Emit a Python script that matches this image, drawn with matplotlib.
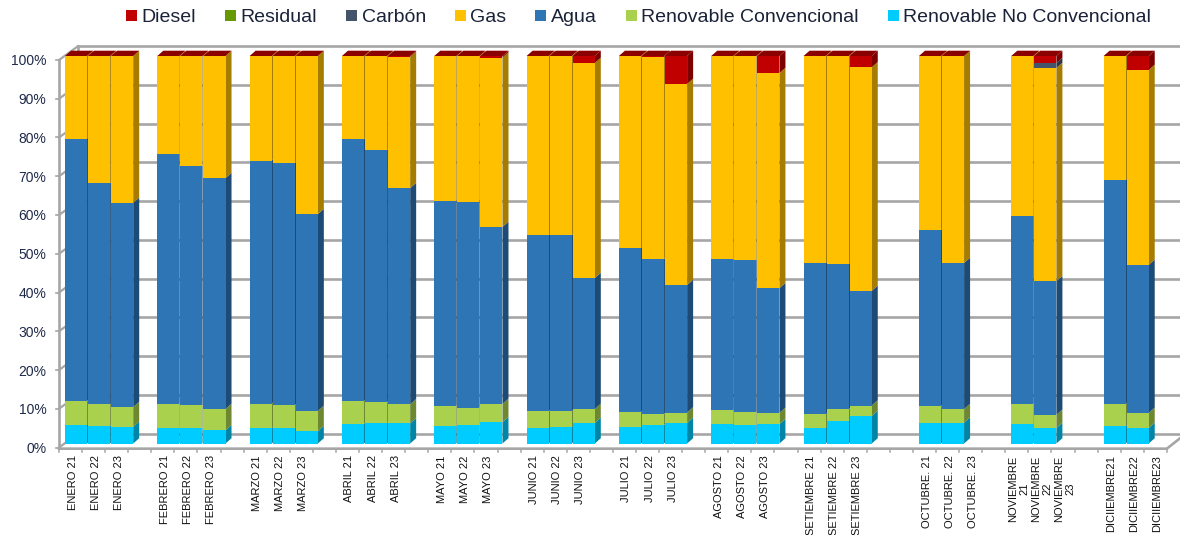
import matplotlib
matplotlib.use("Agg")
import matplotlib.pyplot as plt
import matplotlib.transforms as mtrans
from matplotlib.patches import Patch

plt.rcParams['font.family'] = ['Liberation Sans', 'DejaVu Sans']

# one slot per category, the empty strings are the gaps between the months
categories = ["ENERO 21", "ENERO 22", "ENERO 23", "",
              "FEBRERO 21", "FEBRERO 22", "FEBRERO 23", "",
              "MARZO 21", "MARZO 22", "MARZO 23", "",
              "ABRIL 21", "ABRIL 22", "ABRIL 23", "",
              "MAYO 21", "MAYO 22", "MAYO 23", "",
              "JUNIO 21", "JUNIO 22", "JUNIO 23", "",
              "JULIO 21", "JULIO 22", "JULIO 23", "",
              "AGOSTO 21", "AGOSTO 22", "AGOSTO 23", "",
              "SETIEMBRE 21", "SETIEMBRE 22", "SETIEMBRE 23", "", "",
              "OCTUBRE. 21", "OCTUBRE. 22", "OCTUBRE. 23", "",
              "NOVIEMBRE\n21", "NOVIEMBRE\n22", "NOVIEMBRE\n23", "",
              "DICIIEMBRE21", "DICIIEMBRE22", "DICIIEMBRE23"]

# values in %, one per named category, 2023 has no data from October on
renovable_nc = [4.9, 4.6, 4.3, 4.0, 4.0, 3.4, 4.0, 4.0, 3.2, 5.0, 5.3, 5.2,
                4.5, 4.8, 5.5, 4.0, 4.3, 5.3, 4.3, 4.8, 5.3, 5.0, 4.8, 5.0,
                4.0, 5.8, 7.1, 5.3, 5.4, 0, 5.0, 4.0, 0, 4.5, 4.0, 0]
renovable_conv = [6.1, 5.5, 5.1, 6.2, 5.9, 5.5, 6.3, 5.9, 5.2, 6.0, 5.4, 4.9,
                  5.2, 4.4, 4.7, 4.4, 4.0, 3.6, 3.8, 2.9, 2.7, 3.6, 3.3, 2.9,
                  3.5, 3.1, 2.7, 4.4, 3.5, 0, 5.2, 3.4, 0, 5.7, 3.9, 0]
agua = [67.7, 57.1, 52.7, 64.5, 61.7, 59.6, 62.7, 62.4, 50.8, 67.5, 65.0, 55.8,
        52.9, 53.1, 45.7, 45.3, 45.4, 33.8, 42.4, 39.9, 32.9, 39.0, 39.3, 32.2,
        39.0, 37.4, 29.6, 45.4, 37.7, 0, 48.6, 34.5, 0, 57.8, 38.2, 0]
gas = [21.3, 32.8, 37.9, 25.3, 28.4, 31.5, 27.0, 27.7, 40.8, 21.5, 24.3, 33.9,
       37.4, 37.7, 43.7, 46.3, 46.3, 55.5, 49.5, 52.1, 51.9, 52.4, 52.5, 55.5,
       53.5, 53.7, 57.7, 44.9, 53.4, 0, 41.2, 55.0, 0, 32.0, 50.3, 0]
carbon = [0, 0, 0, 0, 0, 0, 0, 0, 0, 0, 0, 0,
          0, 0, 0, 0, 0, 0, 0, 0, 0, 0, 0, 0,
          0, 0, 0, 0, 0, 0, 0, 1.3, 0, 0, 0, 0]
residual = [0, 0, 0, 0, 0, 0, 0, 0, 0, 0, 0, 0,
            0, 0, 0, 0, 0, 0, 0, 0, 0, 0, 0, 0,
            0, 0, 0, 0, 0, 0, 0, 0, 0, 0, 0, 0]
diesel = [0, 0, 0, 0, 0, 0, 0, 0, 0, 0, 0, 0.2,
          0, 0, 0.4, 0, 0, 1.8, 0, 0.3, 7.2, 0, 0.1, 4.4,
          0, 0, 2.9, 0, 0, 0, 0, 1.8, 0, 0, 3.6, 0]

# bottom to top: name, values, front colour, side colour
series = [("Renovable No Convencional", renovable_nc, "#00CCFF", "#0085A6"),
          ("Renovable Convencional", renovable_conv, "#A9D14D", "#6E8832"),
          ("Agua", agua, "#2E75B6", "#1D4B76"),
          ("Gas", gas, "#FFC000", "#A67C00"),
          ("Carbón", carbon, "#44546A", "#2C3745"),
          ("Residual", residual, "#669900", "#426300"),
          ("Diesel", diesel, "#C00000", "#7C0000")]

W, H = 1180, 535
SLOT = 23.08      # px per category
PCT = 3.875       # px per 1 %
fig = plt.figure(figsize=(W / 100, H / 100), dpi=100)
ax = fig.add_axes([65 / W, (H - 443.5) / H, 48 * SLOT / W, 387.5 / H])
ax.set_xlim(0, 48)
ax.set_ylim(0, 100)
for s in ax.spines.values():
    s.set_visible(False)
ax.patch.set_alpha(0)

# fake 3d depth, in data units
bar_dx, bar_dy = 6 / SLOT, 5.3 / PCT
front_x, front_y = -6 / SLOT, -4 / PCT
back_x, back_y = 13 / SLOT, 9.8 / PCT
wall = "#A6A6A6"
right = 48 + front_x

# back wall and left wall
for p in range(0, 101, 10):
    ax.plot([back_x, right + back_x - front_x], [p + back_y, p + back_y], color=wall, lw=1.9, clip_on=False, zorder=1)
    ax.plot([front_x, back_x], [p + front_y, p + back_y], color=wall, lw=1.6, clip_on=False, zorder=1)
    ax.plot([front_x - 3 / SLOT, front_x], [p + front_y, p + front_y], color=wall, lw=1.2, clip_on=False, zorder=1)
ax.plot([front_x, front_x], [front_y, 100 + front_y], color=wall, lw=1.9, clip_on=False, zorder=1)
ax.plot([back_x, back_x], [back_y, 100 + back_y], color=wall, lw=1.9, clip_on=False, zorder=1)

# floor
ax.plot([front_x, right, right + back_x - front_x], [front_y - 0.3, front_y - 0.3, back_y], color=wall, lw=1.9, clip_on=False, zorder=1)
for i in range(len(categories) + 1):
    ax.plot([i + front_x, i + front_x], [front_y - 0.3, front_y - 1.1], color=wall, lw=1.1, clip_on=False, zorder=1)

named = [i for i, c in enumerate(categories) if c]
width = 0.955
for n, slot in enumerate(named):
    z = 3 + n
    base = 0
    for name, values, color, side in series:
        v = values[n]
        if v > 0:
            ax.bar(slot, v, width=width, bottom=base, align="edge", color=color, lw=0, zorder=z + 0.5)
            xr = slot + width
            ax.fill([xr, xr + bar_dx, xr + bar_dx, xr],
                    [base, base + bar_dy, base + v + bar_dy, base + v],
                    color=side, lw=0, clip_on=False, zorder=z)
        base += v
    if base > 0:
        # top face always belongs to the last series
        ax.fill([slot, slot + bar_dx, slot + width + bar_dx, slot + width],
                [base, base + bar_dy, base + bar_dy, base],
                color="#8B0000", lw=0, clip_on=False, zorder=z + 0.6)

ax.set_xticks([i + 0.5 + front_x + 2 / SLOT for i in range(len(categories))])
ax.set_xticklabels(categories, rotation=90, fontsize=8, color="#111111", multialignment="center")
ax.tick_params(axis="x", length=0, pad=8.5)

ax.set_yticks(range(0, 101, 10))
ax.set_yticklabels([f"{p}%" for p in range(0, 101, 10)], fontsize=10, color="#1F2A4A")
ax.tick_params(axis="y", length=0, pad=13.5)
shift = mtrans.ScaledTranslation(0, -4 / 100, fig.dpi_scale_trans)
for lab in ax.get_yticklabels():
    lab.set_transform(lab.get_transform() + shift)

handles = [Patch(facecolor=c, label=name) for name, values, c, side in reversed(series)]
fig.legend(handles=handles, ncol=7, frameon=False, fontsize=14, labelcolor="#1A2238",
           handlelength=0.55, handleheight=0.55, handletextpad=0.25, columnspacing=1.49,
           borderpad=0, borderaxespad=0, loc="center left", bbox_to_anchor=(126 / W, 1 - 18 / H))

fig.savefig("out.png", dpi=100)
